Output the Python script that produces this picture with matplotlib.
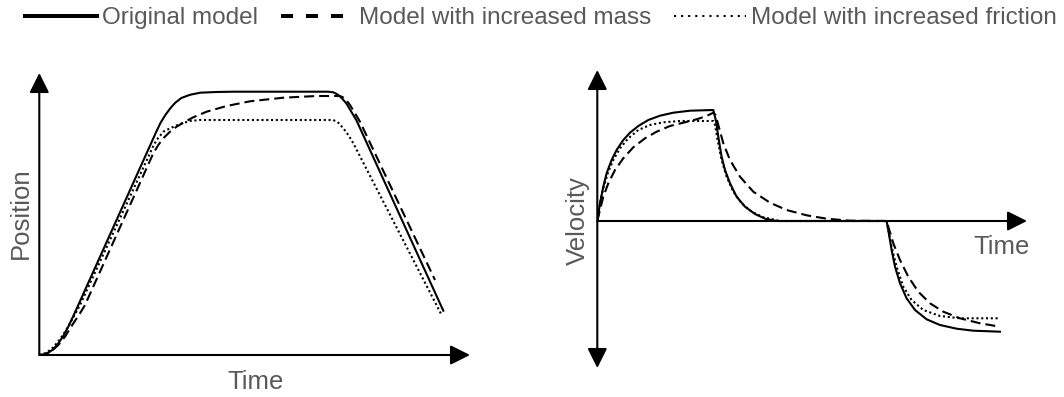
import matplotlib
matplotlib.use("Agg")
import matplotlib.pyplot as plt
from matplotlib.lines import Line2D

plt.rcParams['font.family'] = ['Liberation Sans', 'DejaVu Sans']

# values (time / position / velocity in arbitrary units)
pos_t_orig = [0, 4, 9, 14, 19, 24, 29, 34, 39, 117, 121, 126, 131, 136, 142, 151, 161, 177, 194, 289, 294, 298, 302, 307, 312, 317, 404]
pos_orig = [0, 0.3, 2.3, 5.7, 11.7, 19, 28.3, 39, 50, 223.3, 231.7, 240, 246.7, 252.3, 257, 260.3, 262.3, 263, 263.3, 263.3, 262.7, 260.7, 257.3, 251.7, 243.3, 235, 44.3]

pos_t_mass = [0, 5.7, 12.3, 19, 25.7, 32.3, 40.7, 45.7, 114, 119, 124, 130.7, 137.3, 145.7, 154, 167.3, 187.3, 210.7, 244, 277.3, 300.7, 305.7, 310.7, 315.7, 320.7, 395.7]
pos_mass = [0, 0.7, 4, 10, 18.3, 29, 41.7, 50, 201.7, 210, 216.7, 223.3, 228.3, 233.3, 237.7, 243.3, 249, 253.7, 257.3, 259, 259, 256.7, 250, 241.7, 233.3, 75]

pos_t_fric = [0, 7.3, 14, 20.7, 27.3, 34, 40.7, 114, 117.3, 124, 130.7, 140.7, 150.7, 160.7, 294, 299, 304, 309, 314, 402.3]
pos_fric = [0, 2.3, 7.7, 15.7, 25.7, 37.7, 50, 209, 215, 223.3, 226.7, 231, 234, 235, 235, 232.3, 226.7, 220, 211.7, 40]

vel_t_orig = [0, 2.7, 6, 9.3, 14.3, 19.3, 26, 32.7, 41, 51, 62.7, 76, 92.7, 116, 118.7, 121, 124.3, 127.7, 132.7, 139.3, 147.7, 157.7, 167.7, 179.3, 289.3, 291, 294.3, 297.7, 302.7, 309.3, 317.7, 329.3, 342.7, 359.3, 376, 402.7]
vel_orig = [0, 17.7, 34.3, 47.7, 61, 71, 81, 88.3, 95, 101, 105.3, 108.3, 110.3, 111, 100, 84.3, 64.3, 51, 37.7, 24.3, 14.3, 7, 2.3, 0, 0, -9, -29, -45.7, -62.3, -77.3, -89, -98.3, -104, -107.7, -109.7, -110.7]

vel_t_mass = [0, 2.7, 6, 11, 17.7, 26, 36, 47.7, 59.3, 72.7, 86, 99.3, 109.3, 116, 118.3, 121, 126, 132.7, 142.7, 156, 172.7, 189.3, 209.3, 229.3, 252.7, 289.3, 292, 296, 302.7, 311, 321, 332.7, 346, 362.7, 382.7, 402.7]
vel_mass = [0, 11, 24.3, 37.7, 51, 62.7, 73.7, 82.7, 89.3, 95, 98.3, 101.7, 105, 108.3, 106, 96, 77.7, 61, 44.3, 29.3, 18.3, 11, 5.7, 2.3, 0.3, 0, -9, -22.3, -39, -55.7, -70.7, -82.3, -90.7, -97.3, -102.3, -105.7]

vel_t_fric = [0, 2.7, 6, 11, 16, 22.7, 31, 41, 52.7, 66, 82.7, 116, 117.7, 120.3, 124.3, 129.3, 136, 144.3, 154.3, 166, 182.7, 289.3, 291.3, 294.3, 299.3, 306, 314.3, 326, 342.7, 362.7, 402.7]
vel_fric = [0, 17.7, 32.7, 49.3, 61, 72.7, 82.7, 91, 96, 98.7, 100, 100, 96, 81, 61, 44.3, 29.3, 17.7, 9.3, 3.7, 0, 0, -10.7, -25.7, -45.7, -65.7, -79, -89, -95, -97.3, -97.3]

labels = ['Original model', 'Model with increased mass', 'Model with increased friction']

W, H = 1064, 397
fig = plt.figure(figsize=(W / 100, H / 100), dpi=100)

gray = '#595959'
lw = 1.5
dash = (0, (4.8, 2.4))
dots = (0, (1, 1.3))

# position panel
ax1 = fig.add_axes([39.3 / W, 42 / H, 430.7 / W, 282 / H])
ax1.plot(pos_t_orig, pos_orig, color='k', lw=lw, solid_joinstyle='round')
ax1.plot(pos_t_mass, pos_mass, color='k', lw=lw, linestyle=dash)
ax1.plot(pos_t_fric, pos_fric, color='k', lw=lw, linestyle=dots)
ax1.set_xlim(0, 430.7)
ax1.set_ylim(0, 282)

# velocity panel
ax2 = fig.add_axes([597.3 / W, 29 / H, 429.7 / W, 298 / H])
ax2.plot(vel_t_orig, vel_orig, color='k', lw=lw, solid_joinstyle='round')
ax2.plot(vel_t_mass, vel_mass, color='k', lw=lw, linestyle=dash)
ax2.plot(vel_t_fric, vel_fric, color='k', lw=lw, linestyle=dots)
ax2.set_xlim(0, 429.7)
ax2.set_ylim(-147, 151)

head = dict(color='k', lw=1.5, mutation_scale=20, shrinkA=0, shrinkB=0)
for ax in (ax1, ax2):
    ax.axis('off')
ax1.annotate('', xy=(1, 0), xytext=(0, 0), xycoords='axes fraction',
             arrowprops=dict(arrowstyle='-|>,head_length=0.6,head_width=0.3', **head))
ax1.annotate('', xy=(0, 1), xytext=(0, 0), xycoords='axes fraction',
             arrowprops=dict(arrowstyle='-|>,head_length=0.6,head_width=0.3', **head))
ax2.annotate('', xy=(429.7, 0), xytext=(0, 0),
             arrowprops=dict(arrowstyle='-|>,head_length=0.6,head_width=0.3', **head))
ax2.annotate('', xy=(0, 1), xytext=(0, 0), xycoords='axes fraction',
             arrowprops=dict(arrowstyle='<|-|>,head_length=0.6,head_width=0.3', **head))

fs = 18.5
fig.text(21 / W, 1 - 213 / H, 'Position', rotation=90, ha='center', va='center', fontsize=fs, color=gray)
fig.text(256 / W, 1 - 382 / H, 'Time', ha='center', va='center', fontsize=fs, color=gray)
fig.text(578 / W, 1 - 221 / H, 'Velocity', rotation=90, ha='center', va='center', fontsize=fs, color=gray)
fig.text(1002 / W, 1 - 247 / H, 'Time', ha='center', va='center', fontsize=fs, color=gray)

handles = [Line2D([], [], color='k', lw=2.9),
           Line2D([], [], color='k', lw=2.9, linestyle=(0, (3, 3.2))),
           Line2D([], [], color='k', lw=1.5, linestyle=(0, (1, 2.4)))]
leg = fig.legend(handles, labels, loc='center left', bbox_to_anchor=(25 / W, 1 - 18 / H),
                 ncol=3, frameon=False, fontsize=17.5, handlelength=2.96, handletextpad=0.22,
                 columnspacing=0.95, borderpad=0, borderaxespad=0)
for t in leg.get_texts():
    t.set_color(gray)

fig.savefig('out.png', dpi=100)
